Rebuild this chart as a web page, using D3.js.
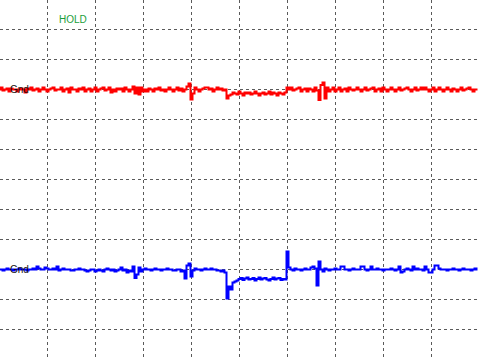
<!DOCTYPE html>
<html>
<head>
<meta charset="utf-8">
<script src="https://cdn.jsdelivr.net/npm/d3@7"></script>
<style>
  html, body { margin: 0; padding: 0; background: #fff; }
  #scope { width: 479px; height: 359px; overflow: hidden; }
  .label { font-family: "Liberation Sans", Arial, sans-serif; font-size: 10px; }
</style>
</head>
<body>
<div id="scope"></div>
<script>
// oscilloscope capture: two channels, 10 x 12 divisions, trigger on HOLD

const width = 479;
const height = 359;

// grid divisions (x in time divs, y in volt divs, center = 0)
const xGrid = [1, 2, 3, 4, 5, 6, 7, 8, 9];
const yGrid = [-5, -4, -3, -2, -1, 0, 1, 2, 3, 4, 5];

// channel ground offsets (divs) and scale (mV per div)
const ch1Offset = 3;
const ch2Offset = -3;
const mvPerDiv = 300;

// samples, one every 1/24 div, in mV relative to ground
const ch1 = [
  0, 20, -10, 0, 10, -20, 10, 0, 0, -20,
  0, 10, 0, -30, 10, 0, 20, -10, 0, 10,
  -20, 0, 20, 0, -20, 0, 10, 20, -10, 0,
  0, 20, -20, 0, 10, -30, 20, 0, 0, -20,
  10, 0, 20, -20, 0, 10, -20, 0, 20, -20,
  0, 10, 20, -10, 0, 20, -30, 0, -20, 10,
  0, 10, -20, 20, 0, -20, 0, 30, -40, 20,
  -50, 20, -20, 0, -20, 10, 0, -20, 10, 0,
  20, -10, 0, -20, 0, 20, 0, -20, 0, 20,
  -10, 10, -20, 0, 30, 60, -100, -40, 20, 0,
  -20, 0, 10, 20, 20, 0, 10, -20, 0, 20,
  0, 10, -10, 0, -90, -60, -50, -30, -40, -50,
  -20, -40, -60, -30, -40, -30, -50, -40, -20, -40,
  -60, -40, -30, -50, -40, -20, -50, -30, -40, -60,
  -30, -40, -50, -30, 20, 0, 20, -10, 0, 10,
  20, -20, 0, 10, -20, 10, 0, -20, 20, -10,
  -105, 45, 70, -90, 20, -20, 0, 20, -20, 0,
  20, -20, 0, 10, -20, 20, 0, -10, 0, 20,
  0, -20, 0, 20, -10, 0, 10, 20, -20, 0,
  10, -20, 20, 0, -20, 0, 20, 0, -20, 0,
  20, -10, 0, 10, 20, 0, -20, 0, 20, -10,
  0, 20, 0, 20, 0, -20, 0, 20, -20, 0,
  20, 0, -20, 0, 20, 0, -20, 10, 0, -20,
  0, 20, -10, 0, 10, 20, 0, -20, 0, 0
];

const ch2 = [
  0, 0, -10, 0, 10, 0, 0, -10, 0, 0,
  10, 0, 0, 0, -10, 0, 0, 10, 0, 30,
  10, 0, 0, 20, 10, 0, 0, 10, 0, 30,
  -10, 0, 10, 0, 0, 0, -10, -10, 0, 0,
  10, 0, 0, -10, -20, -10, 0, 0, -20, -10,
  0, -10, -20, 0, 10, 0, -10, 0, -20, -10,
  0, 20, -10, 0, -30, -10, -20, 30, -85, -50,
  20, -20, 0, 10, 0, 0, -10, 0, 10, 0,
  0, -10, 0, 0, 10, 0, 0, -10, -10, 0,
  0, -20, -10, -90, 40, 60, -70, -10, 10, 0,
  0, -10, 0, 10, 0, 0, 10, 0, 0, -10,
  -10, -20, -10, -30, -290, -170, -200, -130, -120, -110,
  -95, -85, -105, -90, -80, -100, -95, -85, -110, -95,
  -80, -100, -90, -85, -100, -110, -95, -80, -100, -90,
  -85, -105, -95, -100, 180, 20, 0, -10, 10, 0,
  0, -10, 0, 10, 0, 0, 20, 30, 10, -160,
  80, 0, -20, 10, 0, -10, 0, 0, 10, 0,
  0, 30, 30, 0, 0, -10, 0, 10, 0, 0,
  0, 30, 30, 0, -10, 0, 30, 0, 0, 10,
  0, 0, -10, 0, 0, 0, 10, 0, -10, 0,
  30, -30, -20, 0, 10, 0, -10, 30, 0, 10,
  0, 0, -10, 30, 0, -30, -30, 0, 40, 40,
  10, 0, 0, 0, -10, 0, 0, 10, 0, 0,
  -10, 0, 10, 0, 0, 0, -10, 0, 10, 0
];

const samplesPerDiv = 24;

const svg = d3
  .select("#scope")
  .append("svg")
  .attr("width", width)
  .attr("height", height);

svg.append("rect")
  .attr("width", width)
  .attr("height", height)
  .attr("fill", "#fff");

const x = d3.scaleLinear().domain([0, 10]).range([-0.5, 479.5]);
const y = d3.scaleLinear().domain([6, -6]).range([-0.5, 359.5]);

// grid
const grid = svg.append("g")
  .attr("stroke", "#5a5a5a")
  .attr("stroke-width", 1)
  .attr("stroke-dasharray", "3,3");

grid.selectAll("line.v")
  .data(xGrid)
  .join("line")
  .attr("class", "v")
  .attr("x1", d => x(d))
  .attr("x2", d => x(d))
  .attr("y1", 0)
  .attr("y2", height);

grid.selectAll("line.h")
  .data(yGrid)
  .join("line")
  .attr("class", "h")
  .attr("x1", 0)
  .attr("x2", width)
  .attr("y1", d => y(d))
  .attr("y2", d => y(d));

// traces
function trace(values, offset, col) {
  const line = d3.line()
    .x((d, i) => x(i / samplesPerDiv))
    .y(d => y(offset + d / mvPerDiv))
    .curve(d3.curveStep);

  svg.append("path")
    .datum(values)
    .attr("d", line)
    .attr("fill", "none")
    .attr("stroke", col)
    .attr("stroke-width", 2);
}

trace(ch1, ch1Offset, "#ff0000");
trace(ch2, ch2Offset, "#0000ff");

// labels
svg.append("text")
  .attr("class", "label")
  .attr("x", 59)
  .attr("y", 22.5)
  .attr("fill", "#1a9e3a")
  .text("HOLD");

[ch1Offset, ch2Offset].forEach(o => {
  svg.append("text")
    .attr("class", "label")
    .attr("x", 10)
    .attr("y", y(o) + 3.5)
    .attr("fill", "#111")
    .text("Gnd");
});
</script>
</body>
</html>
